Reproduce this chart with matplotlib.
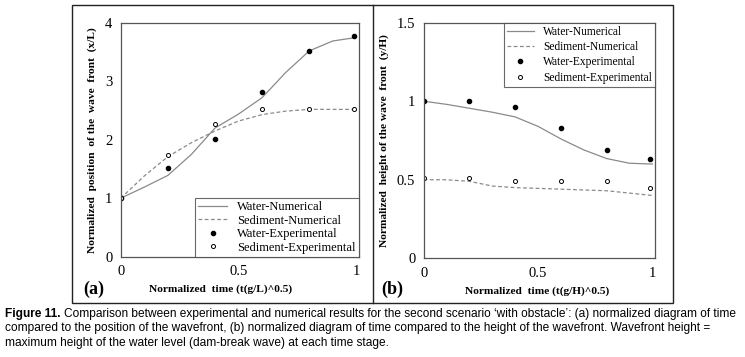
import matplotlib
matplotlib.use('Agg')
from matplotlib import pyplot as plt
from matplotlib.lines import Line2D
from matplotlib.patches import Rectangle

# (a) position of the wave front
t_exp = [0, 0.2, 0.4, 0.6, 0.8, 0.99]
a_water_exp = [1.0, 1.52, 2.02, 2.82, 3.52, 3.78]
a_sed_exp = [1.0, 1.74, 2.27, 2.52, 2.52, 2.52]
t_num = [0, 0.1, 0.2, 0.3, 0.4, 0.5, 0.6, 0.7, 0.8, 0.9, 1.0]
a_water_num = [1.0, 1.19, 1.39, 1.75, 2.2, 2.44, 2.72, 3.15, 3.52, 3.69, 3.75]
a_sed_num = [1.0, 1.38, 1.71, 1.95, 2.15, 2.32, 2.43, 2.49, 2.52, 2.52, 2.52]

# (b) height of the wave front
b_water_exp = [1.0, 1.0, 0.96, 0.83, 0.69, 0.63]
b_sed_exp = [0.51, 0.51, 0.49, 0.49, 0.49, 0.45]
b_water_num = [1.0, 0.98, 0.955, 0.93, 0.9, 0.84, 0.76, 0.69, 0.635, 0.605, 0.6]
b_sed_num = [0.5, 0.5, 0.49, 0.46, 0.45, 0.445, 0.44, 0.435, 0.43, 0.415, 0.4]

labels = ['Water-Numerical', 'Sediment-Numerical', 'Water-Experimental', 'Sediment-Experimental']

serif = ['Liberation Serif', 'DejaVu Serif']
line_col = '#8a8a8a'
spine_col = '#555555'

fig = plt.figure(figsize=(7.45, 3.57), dpi=100)
fig.patch.set_facecolor('white')

# outer frame with divider
fig.add_artist(Rectangle((0.0966, 0.151), 0.9034 - 0.0966, 0.986 - 0.151, transform=fig.transFigure,
                         fill=False, edgecolor='#222222', linewidth=1.0))
fig.add_artist(Line2D([0.5, 0.5], [0.151, 0.986], transform=fig.transFigure, color='#222222', linewidth=1.0))


def draw_panel(ax, water_num, sed_num, water_exp, sed_exp, ylim, yticks, yticklabels, ylabel, xlabel,
               legend_loc, xlabel_x, leg_size, leg_space):
    ax.plot(t_num, water_num, color=line_col, linewidth=0.9, label=labels[0])
    ax.plot(t_num, sed_num, color=line_col, linewidth=0.9, linestyle=(0, (3, 2)), label=labels[1])
    ax.plot(t_exp, water_exp, linestyle='none', marker='o', markersize=3.0, color='black', label=labels[2])
    ax.plot(t_exp, sed_exp, linestyle='none', marker='o', markersize=2.9, markerfacecolor='white',
            markeredgecolor='black', markeredgewidth=0.7, label=labels[3])
    ax.set_xlim(0, 1.01)
    ax.set_ylim(*ylim)
    ax.set_xticks([0, 0.5, 1])
    ax.set_xticklabels(['0', '0.5', '1'])
    ax.set_yticks(yticks)
    ax.set_yticklabels(yticklabels)
    ax.tick_params(length=0, labelsize=10.5, pad=6)
    for lab in ax.get_xticklabels() + ax.get_yticklabels():
        lab.set_family(serif)
    for s in ax.spines.values():
        s.set_color(spine_col)
        s.set_linewidth(0.9)
    ax.set_ylabel(ylabel, family=serif, fontweight='bold', fontsize=8.2, labelpad=6)
    ax.set_xlabel(xlabel, family=serif, fontweight='bold', fontsize=8.2, labelpad=6)
    ax.xaxis.set_label_coords(xlabel_x, -0.12)
    leg = ax.legend(loc=legend_loc, prop={'family': serif, 'size': leg_size}, frameon=True, fancybox=False,
                    borderpad=0.25, labelspacing=leg_space, handlelength=2.3, handletextpad=0.8,
                    borderaxespad=0.0)
    leg.get_frame().set_edgecolor('#444444')
    leg.get_frame().set_linewidth(0.8)


ax1 = fig.add_axes([0.162, 0.281, 0.3195, 0.655])
draw_panel(ax1, a_water_num, a_sed_num, a_water_exp, a_sed_exp, (0, 4), [0, 1, 2, 3, 4],
           ['0', '1', '2', '3', '4'], 'Normalized  position  of the  wave  front  (x/L)',
           'Normalized  time (t(g/L)^0.5)', 'lower right', 0.42, 9.0, 0.12)

ax2 = fig.add_axes([0.5687, 0.2765, 0.310, 0.66])
draw_panel(ax2, b_water_num, b_sed_num, b_water_exp, b_sed_exp, (0, 1.5), [0, 0.5, 1, 1.5],
           ['0', '0.5', '1', '1.5'], 'Normalized  height of the wave  front  (y/H)',
           'Normalized  time (t(g/H)^0.5)', 'upper right', 0.49, 8.3, 0.3)

fig.text(0.112, 0.19, '(a)', family=serif, fontweight='bold', fontsize=13, va='center')
fig.text(0.512, 0.19, '(b)', family=serif, fontweight='bold', fontsize=13, va='center')

cap_font = ['Liberation Sans Narrow', 'Liberation Sans', 'DejaVu Sans']
cap1 = ('Comparison between experimental and numerical results for the second scenario \u2018with obstacle\u2019: '
        '(a) normalized diagram of time')
cap2 = ('compared to the position of the wavefront, (b) normalized diagram of time compared to the height '
        'of the wavefront. Wavefront height =')
cap3 = 'maximum height of the water level (dam-break wave) at each time stage.'
cap_size = 8.6
t0 = fig.text(0.007, 1 - 314 / 357, 'Figure 11.', family=cap_font, fontweight='bold', fontsize=cap_size,
              va='center')
fig.canvas.draw()
bb = t0.get_window_extent()
x1 = bb.x1 / fig.bbox.width + 0.004
fig.text(x1, 1 - 314 / 357, cap1, family=cap_font, fontsize=cap_size, va='center')
fig.text(0.007, 1 - 328.5 / 357, cap2, family=cap_font, fontsize=cap_size, va='center')
fig.text(0.007, 1 - 343 / 357, cap3, family=cap_font, fontsize=cap_size, va='center')

fig.savefig('out.png', dpi=100)
